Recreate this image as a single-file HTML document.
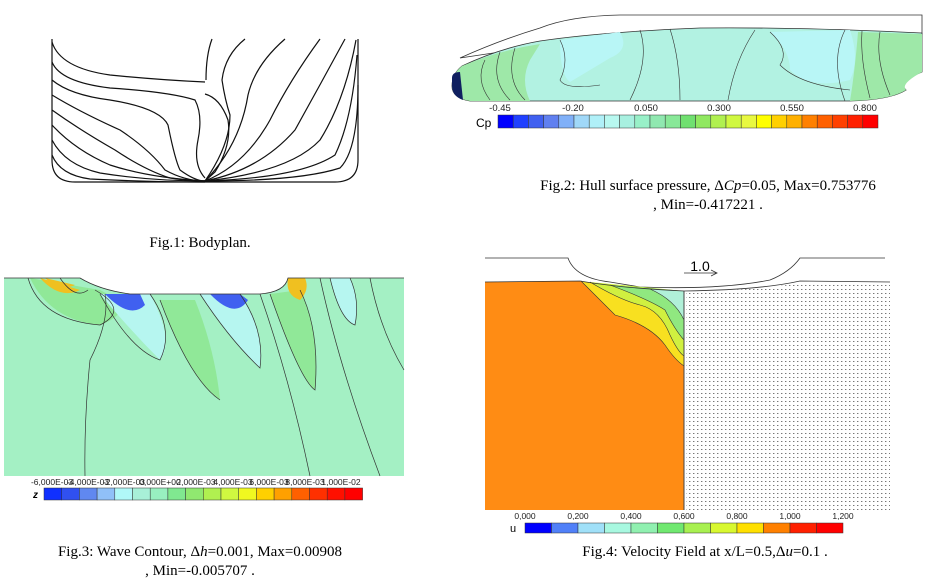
<!DOCTYPE html>
<html><head><meta charset="utf-8"><style>
html,body{margin:0;padding:0;background:#fff}
svg{display:block}
text{font-family:"Liberation Serif",serif}
.s,.s text{font-family:"Liberation Sans",sans-serif}
</style></head><body>
<svg width="935" height="581" viewBox="0 0 935 581" xmlns="http://www.w3.org/2000/svg">
<defs>
<pattern id="dots" width="4" height="4" patternUnits="userSpaceOnUse"><rect x="1" y="1" width="1.4" height="1" fill="#555"/></pattern>
</defs>
<rect width="935" height="581" fill="#fff"/>
<!-- Fig1 bodyplan -->
<g fill="none" stroke="#111" stroke-width="1.2">
<path d="M52,39 V160 Q52,182 75,182 H335 Q358,182 358,160 V39"/>
<path d="M52,42 Q60,68 110,75 Q160,80 205,82"/>
<path d="M52,62 Q60,82 110,88 Q170,92 195,100 Q203,115 198,140 Q193,165 205,178"/>
<path d="M52,80 Q70,95 110,100 Q160,108 168,125 Q175,160 180,170 Q195,181 205,181"/>
<path d="M52,95 Q80,112 120,130 Q150,150 165,170 Q185,181 205,181"/>
<path d="M52,110 Q80,130 115,150 Q145,170 170,178 Q190,181 205,181"/>
<path d="M52,125 Q75,150 110,165 Q150,178 205,181"/>
<path d="M52,140 Q65,165 100,173 Q150,181 205,181"/>
<path d="M52,155 Q60,175 90,179 Q150,182 205,182"/>
<path d="M212,39 Q206,55 206,80"/>
<path d="M205,94 Q220,98 228,120 Q232,145 215,172 L205,181"/>
<path d="M245,39 Q225,55 222,80 Q225,100 230,115 Q230,145 205,181"/>
<path d="M285,39 Q255,65 248,95 Q240,145 205,181"/>
<path d="M320,39 Q290,80 270,120 Q245,165 205,181"/>
<path d="M345,39 Q320,85 295,130 Q260,170 205,181"/>
<path d="M356,40 Q345,100 320,140 Q290,172 205,181"/>
<path d="M357,55 Q352,120 335,155 Q300,178 205,181"/>
<path d="M358,85 Q358,150 340,168 Q300,181 205,181"/>
</g>
<text x="200" y="247" font-size="15" text-anchor="middle">Fig.1: Bodyplan.</text>

<!-- Fig2 hull -->
<path d="M460,58 Q500,40 540,28 Q570,16 620,15 L922,15 L922,34 Q700,28 600,35 Q540,40 500,52 Z" fill="#fff" stroke="#333" stroke-width="0.8"/>
<path d="M462,66 Q500,48 540,41 Q600,32 700,28 Q800,27 922,33 L922,72 Q915,75 908,78 Q900,84 906,90 Q890,100 850,101 L470,101 Q452,98 452,86 Q452,74 462,66 Z" fill="#b2f2e2" stroke="#333" stroke-width="0.8"/>
<path d="M462,66 Q500,50 540,44 L530,60 Q520,80 530,101 L470,101 Q452,98 452,86 Q452,74 462,66Z" fill="#9ee8a8"/>
<path d="M858,32 L922,34 L922,72 Q900,84 906,90 Q890,100 850,101 Q855,70 858,32Z" fill="#9ee8a8"/>
<path d="M560,40 L620,32 Q630,50 610,58 Q590,70 570,82 Q560,75 560,40Z M770,32 L850,30 Q860,60 850,80 Q810,90 790,70 Q790,50 770,32Z" fill="#b8f6f6"/>
<path d="M452,78 Q452,72 460,72 L463,100 Q452,96 452,86Z" fill="#102060"/>
<g fill="none" stroke="#333" stroke-width="0.6">
<path d="M560,40 Q570,60 560,80 Q565,90 600,85"/><path d="M640,30 Q650,60 630,100"/>
<path d="M670,29 Q680,60 680,100"/><path d="M755,30 Q735,60 728,100"/>
<path d="M770,32 Q790,50 780,65 Q800,85 850,90"/><path d="M845,30 Q830,60 845,101"/>
<path d="M862,31 Q860,60 870,98"/><path d="M880,32 Q875,60 890,95"/>
<path d="M485,60 Q475,80 490,100"/><path d="M500,52 Q490,80 510,100"/><path d="M515,48 Q505,80 525,100"/>
</g>
<g class="s" font-size="9.5" fill="#222" text-anchor="middle">
<text x="500" y="111">-0.45</text><text x="573" y="111">-0.20</text><text x="646" y="111">0.050</text><text x="719" y="111">0.300</text><text x="792" y="111">0.550</text><text x="865" y="111">0.800</text>
</g>
<text x="476" y="127" class="s" font-size="12">Cp</text>
<g stroke="#333" stroke-width="0.5">
<rect x="498" y="115" width="15.2" height="13" fill="#0000ff"/><rect x="513.2" y="115" width="15.2" height="13" fill="#2040ff"/><rect x="528.4" y="115" width="15.2" height="13" fill="#4060f0"/><rect x="543.6" y="115" width="15.2" height="13" fill="#6080f0"/><rect x="558.8" y="115" width="15.2" height="13" fill="#80b0f8"/><rect x="574" y="115" width="15.2" height="13" fill="#a0d8f8"/><rect x="589.2" y="115" width="15.2" height="13" fill="#b0f0f8"/><rect x="604.4" y="115" width="15.2" height="13" fill="#b8f8f0"/><rect x="619.6" y="115" width="15.2" height="13" fill="#a8f0e0"/><rect x="634.8" y="115" width="15.2" height="13" fill="#98f0c8"/><rect x="650" y="115" width="15.2" height="13" fill="#90e8b0"/><rect x="665.2" y="115" width="15.2" height="13" fill="#88e898"/><rect x="680.4" y="115" width="15.2" height="13" fill="#70e070"/><rect x="695.6" y="115" width="15.2" height="13" fill="#90e860"/><rect x="710.8" y="115" width="15.2" height="13" fill="#b0f050"/><rect x="726" y="115" width="15.2" height="13" fill="#d0f840"/><rect x="741.2" y="115" width="15.2" height="13" fill="#e8f840"/><rect x="756.4" y="115" width="15.2" height="13" fill="#ffff00"/><rect x="771.6" y="115" width="15.2" height="13" fill="#ffd000"/><rect x="786.8" y="115" width="15.2" height="13" fill="#ffb000"/><rect x="802" y="115" width="15.2" height="13" fill="#ff8000"/><rect x="817.2" y="115" width="15.2" height="13" fill="#ff6000"/><rect x="832.4" y="115" width="15.2" height="13" fill="#ff4000"/><rect x="847.6" y="115" width="15.2" height="13" fill="#ff2000"/><rect x="862.8" y="115" width="15.2" height="13" fill="#ff0000"/>
</g>
<text x="708" y="190" font-size="15" text-anchor="middle">Fig.2: Hull surface pressure, Δ<tspan font-style="italic">Cp</tspan>=0.05, Max=0.753776</text>
<text x="708" y="209" font-size="15" text-anchor="middle">, Min=-0.417221 .</text>

<!-- Fig3 -->
<path d="M4,278 L80,278 Q100,290 130,294 L260,294 Q285,292 288,278 L404,278 L404,476 L4,476 Z" fill="#a4f0c4"/>
<path d="M30,278 Q50,320 100,325 Q140,310 100,290 Z" fill="#90e898"/>
<path d="M40,278 Q60,300 80,290 Z M45,278 Q60,292 75,285Z" fill="#f0c020"/>
<path d="M100,294 Q130,330 160,360 Q175,340 150,294Z" fill="#b6f6f0"/>
<path d="M105,294 Q130,320 145,305 L140,294Z" fill="#4060f0"/>
<path d="M200,294 Q230,340 260,368 Q265,330 240,294Z" fill="#b6f6f0"/>
<path d="M210,294 Q235,320 248,300 L240,294Z" fill="#4060f0"/>
<path d="M160,300 Q190,380 220,400 Q215,350 195,300Z" fill="#90e898"/>
<path d="M270,294 Q300,380 315,390 Q320,330 300,290Z" fill="#90e898"/>
<path d="M288,278 Q285,295 300,300 Q310,290 305,278Z" fill="#f0c020"/>
<path d="M330,278 Q340,320 355,325 Q360,300 350,278Z" fill="#b6f6f0"/>
<g fill="none" stroke="#333" stroke-width="0.7">
<path d="M28,278 Q40,320 100,325 Q130,310 95,290"/><path d="M105,294 Q110,320 90,360 Q84,420 85,476"/>
<path d="M100,294 Q130,350 160,360 Q175,330 150,294"/><path d="M160,300 Q190,380 220,400"/>
<path d="M200,294 Q230,340 260,368 Q265,330 240,294"/><path d="M260,294 Q290,380 310,476"/>
<path d="M270,294 Q300,380 315,390 Q320,330 300,290"/><path d="M320,278 Q340,370 380,476"/>
<path d="M330,278 Q340,320 355,325 Q360,300 350,278"/><path d="M370,278 Q380,330 404,370"/>
<path d="M60,278 Q75,300 88,290"/>
</g>
<path d="M4,278 L80,278 Q100,290 130,294 L260,294 Q285,292 288,278 L404,278" fill="none" stroke="#333" stroke-width="0.8"/>
<g class="s" font-size="8.5" fill="#222" text-anchor="middle">
<text x="52" y="485">-6,000E-03</text><text x="88" y="485">-4,000E-03</text><text x="124" y="485">-2,000E-03</text><text x="160" y="485">0,000E+00</text><text x="196" y="485">2,000E-03</text><text x="233" y="485">4,000E-03</text><text x="269" y="485">6,000E-03</text><text x="305" y="485">8,000E-03</text><text x="341" y="485">1,000E-02</text>
</g>
<text x="33" y="498" class="s" font-size="10" font-weight="bold" font-style="italic">z</text>
<g stroke="#333" stroke-width="0.5">
<rect x="44" y="488" width="17.7" height="12" fill="#1030ff"/><rect x="61.7" y="488" width="17.7" height="12" fill="#3050f0"/><rect x="79.4" y="488" width="17.7" height="12" fill="#6088f0"/><rect x="97.1" y="488" width="17.7" height="12" fill="#90c0f8"/><rect x="114.8" y="488" width="17.7" height="12" fill="#b0f8f8"/><rect x="132.5" y="488" width="17.7" height="12" fill="#a8f0d8"/><rect x="150.2" y="488" width="17.7" height="12" fill="#98f0c0"/><rect x="167.9" y="488" width="17.7" height="12" fill="#80e890"/><rect x="185.6" y="488" width="17.7" height="12" fill="#90e870"/><rect x="203.3" y="488" width="17.7" height="12" fill="#b0f050"/><rect x="221" y="488" width="17.7" height="12" fill="#d0f840"/><rect x="238.7" y="488" width="17.7" height="12" fill="#f0f820"/><rect x="256.4" y="488" width="17.7" height="12" fill="#ffd000"/><rect x="274.1" y="488" width="17.7" height="12" fill="#ffa000"/><rect x="291.8" y="488" width="17.7" height="12" fill="#ff6000"/><rect x="309.5" y="488" width="17.7" height="12" fill="#ff3000"/><rect x="327.2" y="488" width="17.7" height="12" fill="#ff1000"/><rect x="344.9" y="488" width="17.7" height="12" fill="#ff0000"/>
</g>
<text x="200" y="556" font-size="15" text-anchor="middle">Fig.3: Wave Contour, Δ<tspan font-style="italic">h</tspan>=0.001, Max=0.00908</text>
<text x="200" y="575" font-size="15" text-anchor="middle">, Min=-0.005707 .</text>

<!-- Fig4 -->
<path d="M485,258 L568,258 Q575,278 610,282 L640,287 Q720,290 770,280 Q790,272 800,258 L885,258" fill="none" stroke="#333" stroke-width="0.8"/>
<text x="700" y="271" class="s" font-size="14" text-anchor="middle">1.0</text>
<path d="M684,273 H717 M711,270 L717,273 L711,276" fill="none" stroke="#333" stroke-width="0.8"/>
<path d="M485,282 L580,281 Q620,288 684,291 L684,510 L485,510 Z" fill="#ff8c14"/>
<path d="M581,281 Q600,300 615,315 Q650,325 665,345 Q675,360 684,366 L684,291 Q620,288 581,281Z" fill="#f8e020"/>
<path d="M590,282 Q620,300 640,305 Q660,310 670,335 Q678,352 684,356 L684,291Z" fill="#d0f040"/>
<path d="M610,285 Q650,300 665,310 Q675,330 684,340 L684,291Z" fill="#90e880"/>
<path d="M650,289 Q675,300 684,320 L684,291Z" fill="#b0f0d8"/>
<g fill="none" stroke="#333" stroke-width="0.6"><path d="M581,281 Q600,300 615,315 Q650,325 665,345 Q675,360 684,366"/><path d="M590,282 Q620,300 640,305 Q660,310 670,335 Q678,352 684,356"/><path d="M610,285 Q650,300 665,310 Q675,330 684,340"/><path d="M650,289 Q675,300 684,320"/></g>
<path d="M684,291 V510" stroke="#444" stroke-width="1"/>
<path d="M686,292 Q760,290 800,283 L890,284 L890,510 L686,510Z" fill="url(#dots)" opacity="0.8"/>
<path d="M485,282 L580,281 Q620,288 684,291 Q760,290 800,281 L890,282" fill="none" stroke="#333" stroke-width="0.8"/>
<g class="s" font-size="8.5" fill="#222" text-anchor="middle">
<text x="525" y="519">0,000</text><text x="578" y="519">0,200</text><text x="631" y="519">0,400</text><text x="684" y="519">0,600</text><text x="737" y="519">0,800</text><text x="790" y="519">1,000</text><text x="843" y="519">1,200</text>
</g>
<text x="510" y="532" class="s" font-size="11">u</text>
<g stroke="#333" stroke-width="0.5">
<rect x="525" y="523" width="26.5" height="10" fill="#0000ff"/><rect x="551.5" y="523" width="26.5" height="10" fill="#5080f8"/><rect x="578" y="523" width="26.5" height="10" fill="#a0e0f8"/><rect x="604.5" y="523" width="26.5" height="10" fill="#a8f8e0"/><rect x="631" y="523" width="26.5" height="10" fill="#90f0b0"/><rect x="657.5" y="523" width="26.5" height="10" fill="#70e870"/><rect x="684" y="523" width="26.5" height="10" fill="#a8f050"/><rect x="710.5" y="523" width="26.5" height="10" fill="#d8f830"/><rect x="737" y="523" width="26.5" height="10" fill="#ffe000"/><rect x="763.5" y="523" width="26.5" height="10" fill="#ff8000"/><rect x="790" y="523" width="26.5" height="10" fill="#ff2000"/><rect x="816.5" y="523" width="26.5" height="10" fill="#ff0000"/>
</g>
<text x="705" y="556" font-size="15" text-anchor="middle">Fig.4: Velocity Field at x/L=0.5,Δ<tspan font-style="italic">u</tspan>=0.1 .</text>
</svg>
</body></html>
